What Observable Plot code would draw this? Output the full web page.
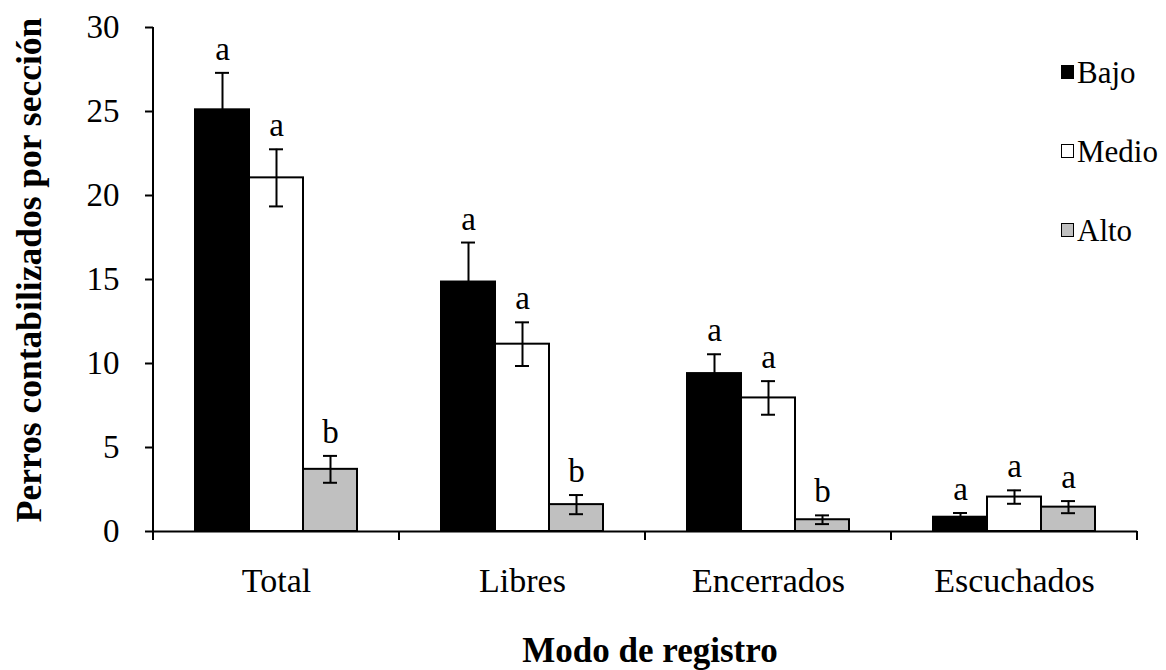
<!DOCTYPE html>
<html>
<head>
<meta charset="utf-8">
<script src="https://cdn.jsdelivr.net/npm/d3@7"></script>
<script src="https://cdn.jsdelivr.net/npm/@observablehq/plot@0.6"></script>
<style>
  html, body { margin: 0; padding: 0; background: white; }
  #wrap { position: relative; width: 1166px; height: 670px; font-family: "Times New Roman", "Liberation Serif", serif; }
  #ytitle { position: absolute; left: 30px; top: 270px; transform: translate(-50%, -50%) rotate(-90deg); white-space: nowrap; font-weight: bold; font-size: 35.5px; line-height: 1; }
  #xtitle { position: absolute; left: 650px; top: 650px; transform: translate(-50%, -50%); white-space: nowrap; font-weight: bold; font-size: 35px; line-height: 1; }
  #legend { position: absolute; left: 1061px; top: 52px; font-size: 31px; line-height: 1; }
  .li { display: flex; align-items: center; height: 40px; margin-bottom: 39px; }
  .sw { width: 13px; height: 14px; border: 1.5px solid black; margin-right: 3px; box-sizing: border-box; }
</style>
</head>
<body>
<div id="wrap">
  <div id="chart"></div>
  <div id="ytitle">Perros contabilizados por sección</div>
  <div id="xtitle">Modo de registro</div>
  <div id="legend"></div>
</div>
<script>
const categories = ["Total", "Libres", "Encerrados", "Escuchados"];
const levels = ["Bajo", "Medio", "Alto"];
const bajoMean = [25.1, 14.85, 9.4, 0.85];
const bajoErr = [2.2, 2.35, 1.15, 0.25];
const medioMean = [21.05, 11.15, 7.95, 2.05];
const medioErr = [1.7, 1.3, 1.0, 0.4];
const altoMean = [3.7, 1.6, 0.7, 1.45];
const altoErr = [0.8, 0.57, 0.26, 0.36];
const bajoLetter = ["a", "a", "a", "a"];
const medioLetter = ["a", "a", "a", "a"];
const altoLetter = ["b", "b", "b", "a"];
const yTicks = [0, 5, 10, 15, 20, 25, 30];

const levelColors = {Bajo: "black", Medio: "white", Alto: "#c0c0c0"};
const series = {
  Bajo: [bajoMean, bajoErr, bajoLetter],
  Medio: [medioMean, medioErr, medioLetter],
  Alto: [altoMean, altoErr, altoLetter]
};
const rows = [];
categories.forEach((c, i) => {
  levels.forEach(l => {
    const [m, e, t] = series[l];
    rows.push({category: c, level: l, mean: m[i], lo: m[i] - e[i], hi: m[i] + e[i], letter: t[i]});
  });
});

let facetCall = 0;
function boundaryTicks(index, scales, values, dimensions) {
  const k = facetCall % categories.length;
  facetCall++;
  const x = scales.x, y = scales.y;
  const [x0, x1] = x.range();
  const y0 = y(0);
  const g = d3.create("svg:g").attr("stroke", "black").attr("stroke-width", 2);
  g.append("line").attr("x1", x0).attr("x2", x0).attr("y1", y0).attr("y2", y0 + 9);
  if (k === categories.length - 1) {
    g.append("line").attr("x1", x1).attr("x2", x1).attr("y1", y0).attr("y2", y0 + 9);
  }
  if (k === 0) {
    g.append("line").attr("x1", x0).attr("x2", x0).attr("y1", y(30)).attr("y2", y0 + 1);
  }
  return g.node();
}

const chart = Plot.plot({
  width: 1166,
  height: 670,
  marginLeft: 152,
  marginRight: 29,
  marginTop: 27,
  marginBottom: 139,
  style: {fontFamily: "'Times New Roman', 'Liberation Serif', serif", fontSize: "33px", color: "black", background: "white", overflow: "visible"},
  fx: {domain: categories, padding: 0, label: null},
  x: {domain: levels, paddingInner: 0, paddingOuter: 0.76, axis: null},
  y: {domain: [0, 30], label: null},
  marks: [
    Plot.axisY({ticks: yTicks, tickSize: 8, tickPadding: 26, tickFormat: d => d, label: null, fontSize: 33, strokeWidth: 2}),
    Plot.axisFx({anchor: "bottom", tickSize: 0, tickPadding: 36, label: null, fontSize: 34}),
    Plot.barY(rows, {fx: "category", x: "level", y: "mean", fill: d => levelColors[d.level], stroke: "black", strokeWidth: 2}),
    Plot.ruleX(rows, {fx: "category", x: "level", y1: "lo", y2: "hi", stroke: "black", strokeWidth: 2}),
    Plot.tickY(rows, {fx: "category", x: "level", y: "hi", inset: 20, stroke: "black", strokeWidth: 2}),
    Plot.tickY(rows, {fx: "category", x: "level", y: "lo", inset: 20, stroke: "black", strokeWidth: 2}),
    Plot.ruleY([0], {stroke: "black", strokeWidth: 2}),
    Plot.text(rows, {fx: "category", x: "level", y: "hi", text: "letter", lineAnchor: "bottom", dy: -13, fontSize: 33, fill: "black"}),
    boundaryTicks
  ]
});
document.getElementById("chart").appendChild(chart);

const legend = document.getElementById("legend");
levels.forEach(l => {
  const row = document.createElement("div");
  row.className = "li";
  const sw = document.createElement("div");
  sw.className = "sw";
  sw.style.background = levelColors[l];
  const tx = document.createElement("span");
  tx.textContent = l;
  row.appendChild(sw);
  row.appendChild(tx);
  legend.appendChild(row);
});
</script>
</body>
</html>
